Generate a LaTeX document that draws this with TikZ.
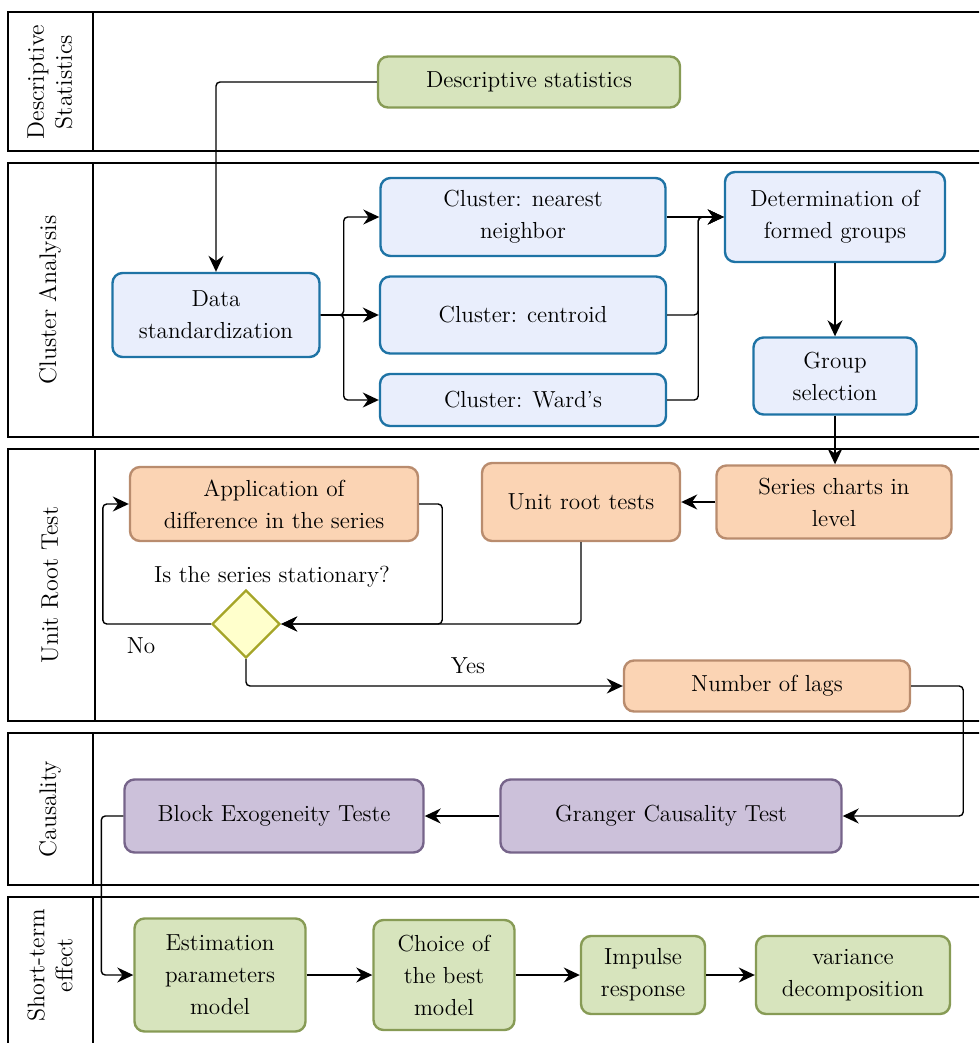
\documentclass[tikz,border=0pt]{standalone}
\usepackage{tikz}
\usetikzlibrary{arrows.meta, positioning, shapes.geometric}
\definecolor{blueF}{RGB}{233,238,252}
\definecolor{blueD}{RGB}{30,115,165}
\definecolor{orangeF}{RGB}{251,212,180}
\definecolor{orangeD}{RGB}{185,140,110}
\definecolor{purpleF}{RGB}{204,193,218}
\definecolor{purpleD}{RGB}{118,100,138}
\definecolor{greenF}{RGB}{215,228,189}
\definecolor{greenD}{RGB}{135,155,85}
\definecolor{diaF}{RGB}{255,255,204}
\definecolor{diaD}{RGB}{165,165,40}
\tikzset{
    box/.style={draw, rounded corners=5pt, line width=1.2pt, align=center, inner sep=2pt, font=\fontsize{11.6}{16}\selectfont},
    bluebox/.style={box, fill=blueF, draw=blueD},
    orangebox/.style={box, fill=orangeF, draw=orangeD},
    purplebox/.style={box, fill=purpleF, draw=purpleD},
    greenbox/.style={box, fill=greenF, draw=greenD},
    decision/.style={diamond, draw=diaD, fill=diaF, line width=1.2pt, inner sep=0pt, minimum width=34pt, minimum height=34pt},
    conn/.style={->, >={Stealth[length=8pt, width=7.5pt]}, line width=0.7pt, rounded corners=2pt},
    lane/.style={draw, line width=0.9pt},
    lanetitle/.style={rotate=90, align=center, font=\fontsize{12}{14}\selectfont},
    tag/.style={font=\fontsize{11.6}{14}\selectfont}
}

\begin{document}
\begin{tikzpicture}[x=0.5pt, y=-0.5pt]
    \useasboundingbox (0,0) rectangle (979,1043);
    \clip (0,0) rectangle (979,1043);
    % Lanes
    \draw[lane] (1000,12) -- (8,12) -- (8,151) -- (1000,151);
    \draw[lane] (93,12) -- (93,151);
    \draw[lane] (1000,163) -- (8,163) -- (8,437) -- (1000,437);
    \draw[lane] (93,163) -- (93,437);
    \draw[lane] (1000,449) -- (8,449) -- (8,721) -- (1000,721);
    \draw[lane] (95,449) -- (95,721);
    \draw[lane] (1000,733) -- (8,733) -- (8,885) -- (1000,885);
    \draw[lane] (93,733) -- (93,885);
    \draw[lane] (1000,897) -- (8,897) -- (8,1060);
    \draw[lane] (93,897) -- (93,1060);
    \node[lanetitle] (t1) at (50,82) {Descriptive\\Statistics};
    \node[lanetitle] (t2) at (50,300) {Cluster Analysis};
    \node[lanetitle] (t3) at (50,585) {Unit Root Test};
    \node[lanetitle] (t4) at (50,809) {Causality};
    \node[lanetitle] (t5) at (50,965) {Short-term\\effect};
    % Descriptive statistics
    \node[greenbox, minimum width=151pt, minimum height=25.5pt] (desc) at (529,82) {Descriptive statistics};
    % Cluster analysis
    \node[bluebox, minimum width=103.5pt, minimum height=42pt] (std) at (216,315) {Data\\standardization};
    \node[bluebox, minimum width=142.5pt, minimum height=39pt] (near) at (523,217) {Cluster: nearest\\neighbor};
    \node[bluebox, minimum width=143pt, minimum height=38.5pt] (cent) at (523,315) {Cluster: centroid};
    \node[bluebox, minimum width=143pt, minimum height=26pt] (ward) at (523,400) {Cluster: Ward's};
    \node[bluebox, minimum width=110pt, minimum height=45pt] (determ) at (835,217) {Determination of\\formed groups};
    \node[bluebox, minimum width=81.5pt, minimum height=38.5pt] (grpsel) at (835,376) {Group\\selection};
    % Unit root test
    \node[orangebox, minimum width=117.5pt, minimum height=36.5pt] (series) at (834,502) {Series charts in\\level};
    \node[orangebox, minimum width=99pt, minimum height=39pt] (unitroot) at (581,502) {Unit root tests};
    \node[orangebox, minimum width=144pt, minimum height=37pt] (appl) at (274,504) {Application of\\difference in the series};
    \node[decision] (dec) at (246,624) {};
    \node[tag] (question) at (272,577) {Is the series stationary?};
    \node[tag] (no) at (141,646) {No};
    \node[tag] (yes) at (468,666) {Yes};
    \node[orangebox, minimum width=143pt, minimum height=25.5pt] (lags) at (767,686) {Number of lags};
    % Causality
    \node[purplebox, minimum width=170.5pt, minimum height=36.5pt] (granger) at (671,816) {Granger Causality Test};
    \node[purplebox, minimum width=149.5pt, minimum height=36.5pt] (block) at (274,816) {Block Exogeneity Teste};
    % Short-term effect
    \node[greenbox, minimum width=85.5pt, minimum height=56.5pt] (estim) at (220,975) {Estimation\\parameters\\model};
    \node[greenbox, minimum width=70.5pt, minimum height=55pt] (choice) at (444,975) {Choice of\\the best\\model};
    \node[greenbox, minimum width=62pt, minimum height=39pt] (impulse) at (643,975) {Impulse\\response};
    \node[greenbox, minimum width=97pt, minimum height=39pt] (variance) at (853,975) {variance\\decomposition};
    % Connectors
    \draw[conn] (desc.west) -| (std.north);
    \draw[conn] (std.east) -- ++(23,0) |- (near.west);
    \draw[conn] (std.east) -- (cent.west);
    \draw[conn] (std.east) -- ++(23,0) |- (ward.west);
    \draw[conn] (near.east) -- (determ.west);
    \draw[conn] (cent.east) -- ++(31,0) |- (determ.west);
    \draw[conn] (ward.east) -- ++(31,0) |- (determ.west);
    \draw[conn] (determ.south) -- (grpsel.north);
    \draw[conn] (grpsel.south) -- (series.north -| grpsel.south);
    \draw[conn] (series.west) -- (unitroot.east);
    \draw[conn] (unitroot.south) |- (dec.east);
    \draw[conn] (appl.east) -- ++(23,0) |- (dec.east);
    \draw[conn] (dec.west) -- ++(-108,0) |- (appl.west);
    \draw[conn] (dec.south) |- (lags.west);
    \draw[conn] (lags.east) -- ++(52,0) |- (granger.east);
    \draw[conn] (granger.west) -- (block.east);
    \draw[conn] (block.west) -- ++(-22,0) |- (estim.west);
    \draw[conn] (estim.east) -- (choice.west);
    \draw[conn] (choice.east) -- (impulse.west);
    \draw[conn] (impulse.east) -- (variance.west);
\end{tikzpicture}
\end{document}
